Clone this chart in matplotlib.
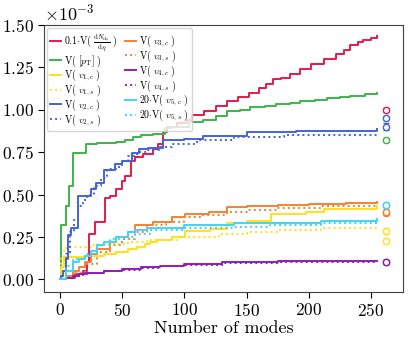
import matplotlib
matplotlib.use("Agg")
import matplotlib.pyplot as plt
from matplotlib.ticker import ScalarFormatter
import numpy as np

plt.rcParams['font.family'] = 'serif'
plt.rcParams['font.serif'] = ['cmr10']
plt.rcParams['mathtext.fontset'] = 'cm'
plt.rcParams['axes.formatter.use_mathtext'] = True
plt.rcParams['axes.unicode_minus'] = False

# ---- data (values in units of 1e-3) ----
red_x = [0, 5, 12, 18, 22, 23, 28, 36, 40, 45, 50, 52, 57, 60, 67, 75, 79, 83, 86, 94, 102, 106, 116, 125, 134, 143, 152, 160, 166, 171, 178, 185, 193, 202, 212, 222, 228, 233, 240, 244, 250, 255]
red_y = [0, 0.01, 0.03, 0.05, 0.10, 0.27, 0.34, 0.48, 0.49, 0.53, 0.58, 0.61, 0.70, 0.72, 0.74, 0.77, 0.80, 0.87, 0.90, 0.92, 0.94, 0.97, 0.99, 1.02, 1.05, 1.075, 1.10, 1.13, 1.15, 1.18, 1.19, 1.21, 1.24, 1.27, 1.30, 1.33, 1.35, 1.38, 1.40, 1.41, 1.425, 1.435]

green_x = [0, 1, 4.5, 7, 10, 21, 30, 45, 52, 59, 65, 75, 84, 90, 104, 115, 125, 134, 145, 153, 165, 174, 185, 193, 205, 215, 225, 233, 245, 255]
green_y = [0, 0.32, 0.43, 0.55, 0.745, 0.80, 0.805, 0.81, 0.82, 0.84, 0.85, 0.86, 0.89, 0.90, 0.925, 0.94, 0.965, 0.995, 1.00, 1.018, 1.025, 1.033, 1.04, 1.053, 1.06, 1.07, 1.075, 1.082, 1.09, 1.096]

blue_c_x = [0, 1, 2.7, 4.5, 6, 9, 14, 25, 29, 35, 44, 50, 57.6, 63.5, 71, 83, 100, 115, 150, 190, 255]
blue_c_y = [0, 0.02, 0.05, 0.12, 0.26, 0.30, 0.49, 0.535, 0.57, 0.645, 0.68, 0.70, 0.745, 0.77, 0.775, 0.82, 0.83, 0.847, 0.866, 0.876, 0.886]
blue_s_x = [0, 2, 5, 8, 11, 14, 18, 22, 27, 33, 38, 45, 50, 55, 62, 70, 80, 90, 110, 140, 180, 255]
blue_s_y = [0, 0.05, 0.15, 0.28, 0.35, 0.43, 0.47, 0.50, 0.55, 0.60, 0.65, 0.66, 0.70, 0.73, 0.75, 0.76, 0.78, 0.80, 0.82, 0.84, 0.85, 0.857]

orange_c_x = [0, 5, 10, 15, 20, 25, 30, 40, 45, 55, 60, 75, 90, 100.5, 120, 134, 150, 175, 200, 230, 255]
orange_c_y = [0, 0.02, 0.05, 0.07, 0.10, 0.15, 0.18, 0.22, 0.25, 0.28, 0.32, 0.34, 0.37, 0.386, 0.40, 0.425, 0.43, 0.44, 0.445, 0.45, 0.455]
orange_s_x = [0, 5, 10, 20, 30, 40, 50, 60, 70, 85, 100, 115, 134, 150, 175, 210, 255]
orange_s_y = [0, 0.015, 0.04, 0.09, 0.16, 0.20, 0.24, 0.28, 0.32, 0.34, 0.365, 0.38, 0.40, 0.41, 0.42, 0.43, 0.435]

yellow_c_x = [0, 1, 3, 20, 25, 35, 45, 55, 62, 68, 72, 78, 90, 100.5, 120.6, 134, 150, 170, 198, 212, 255]
yellow_c_y = [0, 0.07, 0.13, 0.135, 0.14, 0.15, 0.16, 0.18, 0.19, 0.21, 0.22, 0.234, 0.25, 0.284, 0.298, 0.334, 0.347, 0.386, 0.40, 0.416, 0.43]
yellow_s_x = [0, 1, 3, 5, 25, 40, 55, 70, 96, 128, 150, 175, 210, 255]
yellow_s_y = [0, 0.12, 0.17, 0.19, 0.20, 0.21, 0.22, 0.23, 0.25, 0.27, 0.28, 0.29, 0.305, 0.318]

cyan_c_x = [0, 5, 10, 15, 20, 25, 30, 35, 45, 55, 60, 70, 100, 140, 175, 210, 255]
cyan_c_y = [0, 0.05, 0.10, 0.12, 0.14, 0.17, 0.20, 0.22, 0.25, 0.28, 0.29, 0.304, 0.32, 0.33, 0.334, 0.345, 0.357]
cyan_s_x = [0, 5, 10, 20, 30, 40, 50, 60, 72, 100, 140, 169, 210, 255]
cyan_s_y = [0, 0.08, 0.12, 0.15, 0.20, 0.24, 0.25, 0.27, 0.29, 0.305, 0.31, 0.318, 0.33, 0.343]

purple_c_x = [0, 5, 10, 15, 20, 25, 35, 50, 65, 80, 100, 130, 175, 255]
purple_c_y = [0, 0.01, 0.02, 0.03, 0.035, 0.04, 0.05, 0.06, 0.07, 0.08, 0.09, 0.10, 0.106, 0.108]
purple_s_x = [0, 5, 10, 15, 20, 25, 35, 50, 65, 80, 100, 130, 175, 255]
purple_s_y = [0, 0.008, 0.017, 0.027, 0.032, 0.037, 0.047, 0.057, 0.067, 0.077, 0.087, 0.097, 0.103, 0.105]

# reference points at the right
ref_x = 262
ref_vals = {
    'red': (1.00, 0.012), 'green': (0.82, 0.012),
    'blue_c': (0.95, 0.012), 'blue_s': (0.90, 0.022),
    'orange_c': (0.39, 0.012), 'orange_s': (0.40, 0.015),
    'yellow_c': (0.225, 0.012), 'yellow_s': (0.285, 0.02),
    'cyan_c': (0.437, 0.012), 'cyan_s': (0.44, 0.012),
    'purple_c': (0.10, 0.012), 'purple_s': (0.10, 0.012),
}

labels = [r'$0.1{\cdot}\mathrm{V}(\ \frac{\mathrm{d}N_{\mathrm{ch}}}{\mathrm{d}\eta}\ )$',
          r'$\mathrm{V}(\ [p_{\mathrm{T}}]\ )$',
          r'$\mathrm{V}(\ v_{1,c}\ )$', r'$\mathrm{V}(\ v_{1,s}\ )$',
          r'$\mathrm{V}(\ v_{2,c}\ )$', r'$\mathrm{V}(\ v_{2,s}\ )$',
          r'$\mathrm{V}(\ v_{3,c}\ )$', r'$\mathrm{V}(\ v_{3,s}\ )$',
          r'$\mathrm{V}(\ v_{4,c}\ )$', r'$\mathrm{V}(\ v_{4,s}\ )$',
          r'$20{\cdot}\mathrm{V}(\ v_{5,c}\ )$', r'$20{\cdot}\mathrm{V}(\ v_{5,s}\ )$']

C = {'red': '#e6194B', 'green': '#3cb44b', 'yellow': '#ffe119', 'blue': '#4363d8',
     'orange': '#f58231', 'purple': '#911eb4', 'cyan': '#42d4f4'}

series = [
    ('red', red_x, red_y, '-', 'red'),
    ('green', green_x, green_y, '-', 'green'),
    ('yellow', yellow_c_x, yellow_c_y, '-', 'yellow_c'),
    ('yellow', yellow_s_x, yellow_s_y, ':', 'yellow_s'),
    ('blue', blue_c_x, blue_c_y, '-', 'blue_c'),
    ('blue', blue_s_x, blue_s_y, ':', 'blue_s'),
    ('orange', orange_c_x, orange_c_y, '-', 'orange_c'),
    ('orange', orange_s_x, orange_s_y, ':', 'orange_s'),
    ('purple', purple_c_x, purple_c_y, '-', 'purple_c'),
    ('purple', purple_s_x, purple_s_y, ':', 'purple_s'),
    ('cyan', cyan_c_x, cyan_c_y, '-', 'cyan_c'),
    ('cyan', cyan_s_x, cyan_s_y, ':', 'cyan_s'),
]

fig = plt.figure(figsize=(4.11, 3.42), dpi=100)
ax = fig.add_axes([0.107, 0.146, 0.874, 0.781])

scale = 1e-3
for (col, xs, ys, ls, key), lab in zip(series, labels):
    ax.plot(xs, np.array(ys) * scale, drawstyle='steps-post', color=C[col], ls=ls,
            lw=1.4, label=lab)
    v, e = ref_vals[key]
    ax.errorbar([ref_x], [v * scale], yerr=[e * scale], fmt='o', color=C[col],
                mfc='white', ms=4.5, mew=1.0, elinewidth=1.0, capsize=2,
                ls='none')

ax.set_xlim(-13, 276)
ax.set_ylim(-0.075e-3, 1.5e-3)
ax.set_xticks([0, 50, 100, 150, 200, 250])
ax.set_yticks(np.array([0, 0.25, 0.5, 0.75, 1.0, 1.25, 1.5]) * scale)
fmt = ScalarFormatter(useMathText=True)
fmt.set_powerlimits((0, 0))
ax.yaxis.set_major_formatter(fmt)
ax.tick_params(labelsize=12.5, direction='out', length=4)
ax.yaxis.get_offset_text().set_fontsize(13)
ax.set_xlabel('Number of modes', fontsize=13, labelpad=1)
for sp in ax.spines.values():
    sp.set_color('0.25')

leg = ax.legend(loc='upper left', ncol=2, fontsize=7.1, handlelength=1.1,
                handletextpad=0.35, columnspacing=0.8, labelspacing=-0.05,
                borderaxespad=0.3, borderpad=0.3, frameon=True, edgecolor='0.8',
                fancybox=True)

fig.savefig('out.png', dpi=100)
